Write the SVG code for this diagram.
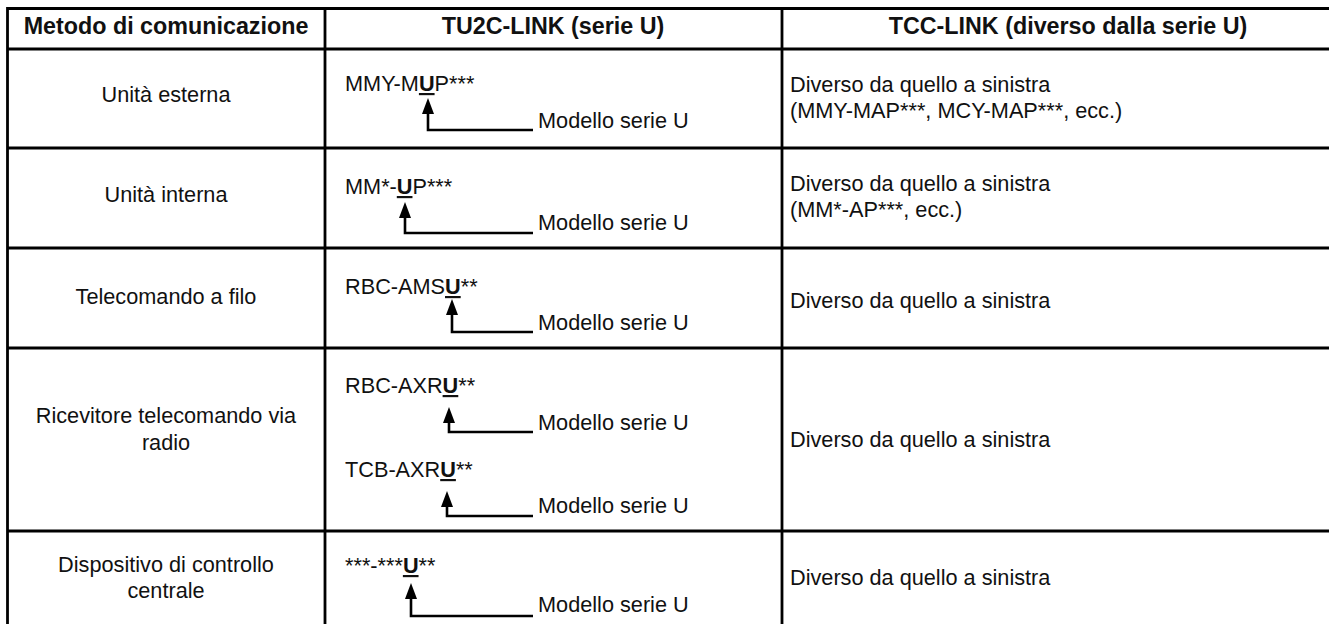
<svg xmlns="http://www.w3.org/2000/svg" width="1329" height="624" viewBox="0 0 1329 624">
<style>
  text { font-family: "Liberation Sans", Arial, sans-serif; font-size: 21.7px; fill: #111; }
  .hd { font-weight: bold; text-anchor: middle; font-size: 23.3px; }
  .c1 { text-anchor: middle; }
  .u { font-weight: bold; text-decoration: underline; }
  .grid { stroke: #000; stroke-width: 2.8; fill: none; }
  .conn { stroke: #000; stroke-width: 2.6; fill: none; }
</style>
<defs>
  <marker id="ah" viewBox="0 0 16 12" refX="0" refY="6" markerWidth="16" markerHeight="12" markerUnits="userSpaceOnUse" orient="auto">
    <path d="M0,0 L16,6 L0,12 Z" fill="#000"/>
  </marker>
</defs>
<rect width="1329" height="624" fill="#fff"/>

<g id="grid" class="grid">
  <line x1="7" y1="8.5" x2="1329" y2="8.5"/>
  <line x1="7" y1="49" x2="1329" y2="49"/>
  <line x1="7" y1="148" x2="1329" y2="148"/>
  <line x1="7" y1="248" x2="1329" y2="248"/>
  <line x1="7" y1="348" x2="1329" y2="348"/>
  <line x1="7" y1="531" x2="1329" y2="531"/>
  <line x1="7.5" y1="7" x2="7.5" y2="624"/>
  <line x1="325" y1="7" x2="325" y2="624"/>
  <line x1="782" y1="7" x2="782" y2="624"/>
</g>

<g id="header">
  <text class="hd" x="166" y="34">Metodo di comunicazione</text>
  <text class="hd" x="553" y="34">TU2C-LINK (serie U)</text>
  <text class="hd" x="1068" y="34">TCC-LINK (diverso dalla serie U)</text>
</g>

<g id="row-esterna">
  <text class="c1" x="166" y="102">Unità esterna</text>
  <text x="345" y="91">MMY-M<tspan class="u">U</tspan>P***</text>
  <text x="538" y="128">Modello serie U</text>
  <text x="790" y="92">Diverso da quello a sinistra</text>
  <text x="790" y="118">(MMY-MAP***, MCY-MAP***, ecc.)</text>
</g>

<g id="row-interna">
  <text class="c1" x="166" y="202">Unità interna</text>
  <text x="345" y="194">MM*-<tspan class="u">U</tspan>P***</text>
  <text x="538" y="230">Modello serie U</text>
  <text x="790" y="191">Diverso da quello a sinistra</text>
  <text x="790" y="217">(MM*-AP***, ecc.)</text>
</g>

<g id="row-filo">
  <text class="c1" x="166" y="304">Telecomando a filo</text>
  <text x="345" y="294">RBC-AMS<tspan class="u">U</tspan>**</text>
  <text x="538" y="330">Modello serie U</text>
  <text x="790" y="308">Diverso da quello a sinistra</text>
</g>

<g id="row-radio">
  <text class="c1" x="166" y="423">Ricevitore telecomando via</text>
  <text class="c1" x="166" y="450">radio</text>
  <text x="345" y="393">RBC-AXR<tspan class="u">U</tspan>**</text>
  <text x="538" y="430">Modello serie U</text>
  <text x="345" y="477">TCB-AXR<tspan class="u">U</tspan>**</text>
  <text x="538" y="513">Modello serie U</text>
  <text x="790" y="447">Diverso da quello a sinistra</text>
</g>

<g id="row-centrale">
  <text class="c1" x="166" y="572">Dispositivo di controllo</text>
  <text class="c1" x="166" y="598">centrale</text>
  <text x="345" y="573">***-***<tspan class="u">U</tspan>**</text>
  <text x="538" y="612">Modello serie U</text>
  <text x="790" y="585">Diverso da quello a sinistra</text>
</g>

<g id="connectors" class="conn">
  <polyline points="533,130 428,130 428,114" marker-end="url(#ah)"/>
  <polyline points="533,233 405,233 405,218" marker-end="url(#ah)"/>
  <polyline points="533,332 452,332 452,315" marker-end="url(#ah)"/>
  <polyline points="533,432 449,432 449,423" marker-end="url(#ah)"/>
  <polyline points="533,516 447,516 447,507" marker-end="url(#ah)"/>
  <polyline points="533,616 411,616 411,599" marker-end="url(#ah)"/>
</g>
</svg>
